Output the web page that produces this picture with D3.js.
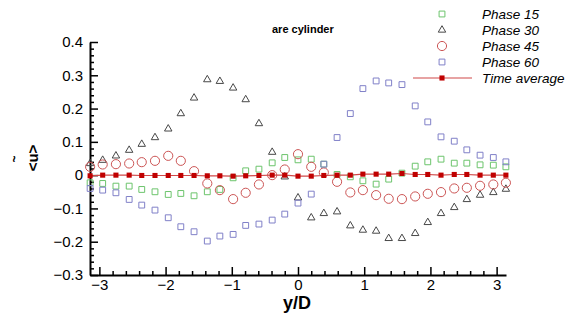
<!DOCTYPE html>
<html>
<head>
<meta charset="utf-8">
<script src="https://cdn.jsdelivr.net/npm/d3@7"></script>
<style>
  body { margin: 0; background: #fff; }
  svg { display: block; font-family: "Liberation Sans", Arial, sans-serif; }
</style>
</head>
<body>
<svg id="chart" width="569" height="320"></svg>
<script>
// y/D positions of the measurement stations
const yD = [-3.14, -2.95, -2.75, -2.55, -2.36, -2.16, -1.96, -1.77, -1.57, -1.37, -1.18,
  -0.98, -0.79, -0.59, -0.39, -0.2, 0, 0.2, 0.39, 0.59, 0.79, 0.98, 1.18, 1.37, 1.57,
  1.77, 1.96, 2.16, 2.36, 2.55, 2.75, 2.95, 3.14];

const phase15 = [-0.023, -0.025, -0.033, -0.033, -0.043, -0.05, -0.058, -0.055, -0.062,
  -0.05, -0.043, -0.008, 0.013, 0.018, 0.037, 0.053, 0.046, 0.048, 0.033, 0.002, -0.005,
  -0.017, -0.027, -0.012, 0.006, 0.027, 0.04, 0.048, 0.036, 0.036, 0.031, 0.03, 0.025];

const phase30 = [0.035, 0.045, 0.058, 0.075, 0.093, 0.113, 0.139, 0.185, 0.232, 0.287,
  0.282, 0.262, 0.227, 0.155, 0.069, -0.005, -0.068, -0.128, -0.115, -0.11, -0.152,
  -0.165, -0.168, -0.19, -0.19, -0.175, -0.142, -0.115, -0.097, -0.073, -0.06, -0.052, -0.042];

const phase45 = [0.025, 0.032, 0.033, 0.035, 0.039, 0.043, 0.058, 0.043, 0.012, -0.025,
  -0.045, -0.072, -0.053, -0.028, 0, 0.017, 0.063, 0.025, 0.008, -0.02, -0.052, -0.045,
  -0.06, -0.071, -0.072, -0.064, -0.056, -0.051, -0.04, -0.038, -0.032, -0.028, -0.023];

const phase60 = [-0.04, -0.045, -0.053, -0.073, -0.09, -0.105, -0.128, -0.155, -0.17,
  -0.198, -0.183, -0.178, -0.151, -0.147, -0.135, -0.117, -0.084, -0.057, 0.033, 0.113,
  0.185, 0.26, 0.283, 0.277, 0.272, 0.208, 0.16, 0.115, 0.102, 0.076, 0.06, 0.053, 0.04];

const timeAvg = [-0.002, 0, 0, 0, -0.001, -0.001, -0.001, -0.001, -0.001, -0.002, -0.002,
  -0.003, -0.002, -0.001, 0, 0, -0.003, -0.003, -0.001, 0, 0, 0.003, 0.003, 0.003, 0.005,
  0.002, 0.002, 0, 0.002, 0.002, 0, 0, 0];

const xTicks = [-3, -2, -1, 0, 1, 2, 3];
const yTicks = [-0.3, -0.2, -0.1, 0, 0.1, 0.2, 0.3, 0.4];

const svg = d3.select("#chart");

const x = d3.scaleLinear().domain([-Math.PI, Math.PI]).range([90, 506]);
const y = d3.scaleLinear().domain([-0.3, 0.4]).range([275, 42]);

// axes: ticks pointing inward, minor ticks between majors
const xAxis = d3.axisBottom(x).tickValues(xTicks).tickSizeInner(-8).tickSizeOuter(0)
  .tickPadding(4).tickFormat(d3.format("d"));
const xMinor = d3.axisBottom(x).tickValues(d3.range(-3.0, 3.01, 0.2).filter(v => Math.abs(v - Math.round(v)) > 0.01))
  .tickSize(-4).tickFormat("");
const yAxis = d3.axisLeft(y).tickValues(yTicks).tickSizeInner(-8).tickSizeOuter(0)
  .tickPadding(7).tickFormat(d => d === 0 ? "0" : d3.format(".1f")(d));
const yMinor = d3.axisLeft(y).tickValues(d3.range(-0.3, 0.401, 0.02).filter(v => Math.abs(v * 10 - Math.round(v * 10)) > 0.01))
  .tickSize(-4).tickFormat("");

function styleAxis(g) {
  g.select(".domain").attr("stroke", "#000").attr("stroke-width", 2);
  g.selectAll(".tick line").attr("stroke", "#000").attr("stroke-width", 1.5);
  g.selectAll(".tick text").attr("fill", "#000").attr("font-size", 15)
    .attr("font-family", "Liberation Sans, Arial, sans-serif");
}

svg.append("g").attr("transform", "translate(0,275)").call(xMinor).call(styleAxis)
  .select(".domain").remove();
svg.append("g").attr("transform", "translate(90,0)").call(yMinor).call(styleAxis)
  .select(".domain").remove();
svg.append("g").attr("transform", "translate(0,275)").call(xAxis).call(styleAxis);
svg.append("g").attr("transform", "translate(90,0)").call(yAxis).call(styleAxis);

// series
const series = [
  { name: "Phase 15", values: phase15, type: d3.symbolSquare, size: 34, color: "#6cc46c" },
  { name: "Phase 30", values: phase30, type: d3.symbolTriangle, size: 24, color: "#484848" },
  { name: "Phase 45", values: phase45, type: d3.symbolCircle, size: 66, color: "#cc5555" },
  { name: "Phase 60", values: phase60, type: d3.symbolSquare, size: 34, color: "#8080c8" }
];

series.forEach(s => {
  svg.append("g")
    .selectAll("path")
    .data(s.values)
    .enter()
    .append("path")
    .attr("d", d3.symbol().type(s.type).size(s.size))
    .attr("transform", (d, i) => `translate(${x(yD[i])},${y(d)})`)
    .attr("fill", "none")
    .attr("stroke", s.color)
    .attr("stroke-width", 1);
});

// time average line + filled squares
const line = d3.line().x((d, i) => x(yD[i])).y(d => y(d));
svg.append("path")
  .datum(timeAvg)
  .attr("d", line)
  .attr("fill", "none")
  .attr("stroke", "#d04848")
  .attr("stroke-width", 1.2);

svg.append("g")
  .selectAll("path")
  .data(timeAvg)
  .enter()
  .append("path")
  .attr("d", d3.symbol().type(d3.symbolSquare).size(26))
  .attr("transform", (d, i) => `translate(${x(yD[i])},${y(d)})`)
  .attr("fill", "#c00000");

// legend
const legend = svg.append("g");
const legendRows = [14, 30, 46, 62];
series.forEach((s, i) => {
  legend.append("path")
    .attr("d", d3.symbol().type(s.type).size(s.size))
    .attr("transform", `translate(442,${legendRows[i]})`)
    .attr("fill", "none")
    .attr("stroke", s.color);
  legend.append("text")
    .attr("x", 482).attr("y", legendRows[i] + 5)
    .attr("font-size", 13.5).attr("font-style", "italic")
    .text(s.name);
});
legend.append("line")
  .attr("x1", 413).attr("x2", 472).attr("y1", 78).attr("y2", 78)
  .attr("stroke", "#d04848").attr("stroke-width", 1.2);
legend.append("path")
  .attr("d", d3.symbol().type(d3.symbolSquare).size(26))
  .attr("transform", "translate(442,78)")
  .attr("fill", "#c00000");
legend.append("text")
  .attr("x", 482).attr("y", 83)
  .attr("font-size", 13.5).attr("font-style", "italic")
  .text("Time average");

// titles
svg.append("text")
  .attr("x", 272).attr("y", 33)
  .attr("font-size", 11).attr("font-weight", "bold")
  .text("are cylinder");

svg.append("text")
  .attr("x", 297).attr("y", 309)
  .attr("text-anchor", "middle")
  .attr("font-size", 18).attr("font-weight", "bold")
  .text("y/D");

svg.append("text")
  .attr("transform", "translate(38,158) rotate(-90)")
  .attr("text-anchor", "middle")
  .attr("font-size", 15).attr("font-weight", "bold")
  .text("<u>");
svg.append("text")
  .attr("transform", "translate(19,159) rotate(-90)")
  .attr("text-anchor", "middle")
  .attr("font-size", 12).attr("font-weight", "bold")
  .text("~");
</script>
</body>
</html>
